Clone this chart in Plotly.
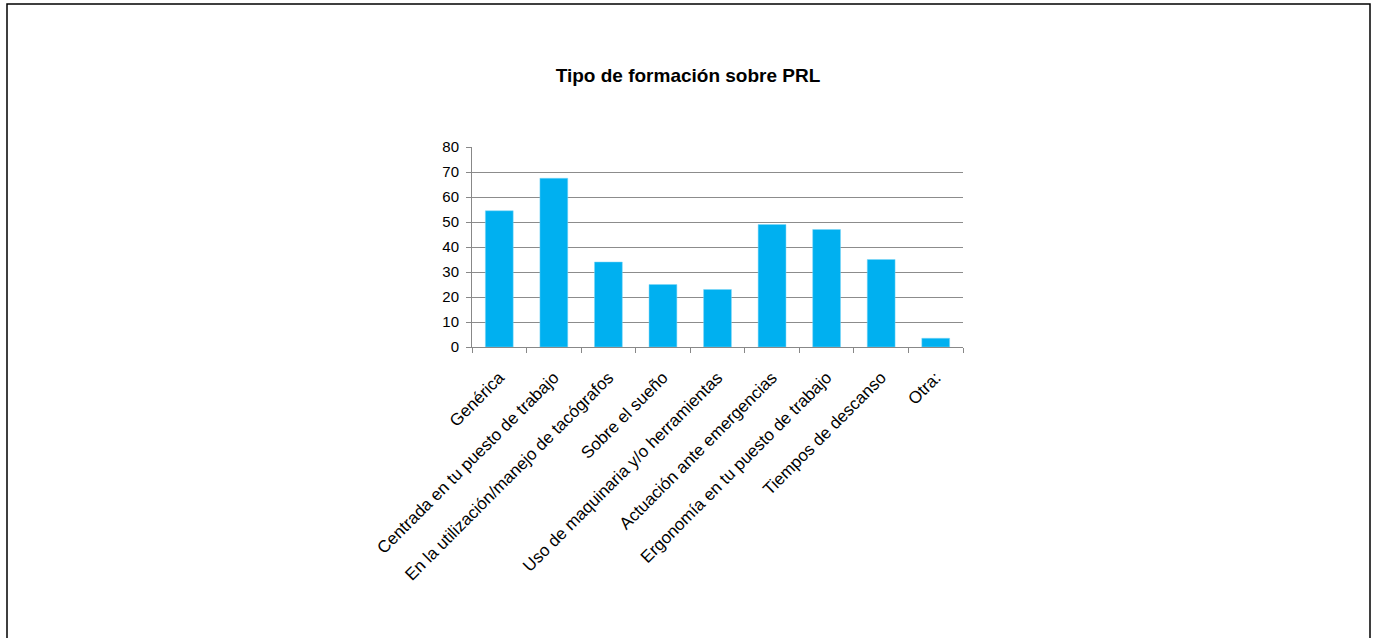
import plotly.graph_objects as go

# Datos
categorias = ['Genérica', 'Centrada en tu puesto de trabajo',
              'En la utilización/manejo de tacógrafos', 'Sobre el sueño',
              'Uso de maquinaria y/o herramientas', 'Actuación ante emergencias',
              'Ergonomía en tu puesto de trabajo', 'Tiempos de descanso', 'Otra:']
valores = [54.5, 67.5, 34, 25, 23, 49, 47, 35, 3.5]
y_ticks = [0, 10, 20, 30, 40, 50, 60, 70, 80]

W, H = 1376, 638
L, R, T, B = 472, 963, 147, 347

fig = go.Figure()
fig.add_trace(go.Bar(x=categorias, y=valores, marker_color='#00B0F0',
                     marker_line=dict(color='#7fd6f6', width=0.5)))

def px_x(p):
    return (p - L) / (R - L)

def px_y(p):
    return (B - p) / (B - T)

# marco exterior
fig.add_shape(type='rect', xref='paper', yref='paper',
              x0=px_x(7), x1=px_x(1370), y0=px_y(642), y1=px_y(4),
              line=dict(color='black', width=1.5), layer='below')

fig.update_layout(
    width=W, height=H,
    margin=dict(l=L, r=W - R, t=T, b=H - B),
    paper_bgcolor='white', plot_bgcolor='white',
    font=dict(family='Liberation Sans, Arial', size=14, color='black'),
    title=dict(text='<b>Tipo de formación sobre PRL</b>', x=0.5, xref='container',
               y=1 - 75 / H, yref='container', yanchor='middle',
               font=dict(size=19, color='black')),
    bargap=0.49,
    showlegend=False,
)
fig.update_xaxes(tickangle=-45, ticks='outside', tickson='boundaries', ticklen=5,
                 tickcolor='#888888', showline=True, linecolor='#888888',
                 showgrid=False, tickfont=dict(size=17), ticklabelstandoff=13)
fig.update_yaxes(range=[0, 80], tickvals=y_ticks, showgrid=True, gridcolor='#8c8c8c',
                 gridwidth=1, showline=True, linecolor='#888888', ticks='outside',
                 ticklen=5, tickcolor='#888888', zeroline=False, tickfont=dict(size=15),
                 ticklabelstandoff=4)

# sin margen del body para que el lienzo empiece en (0, 0)
fig.write_html('out.html', config={'displayModeBar': False},
               post_script="document.body.style.margin='0';")
